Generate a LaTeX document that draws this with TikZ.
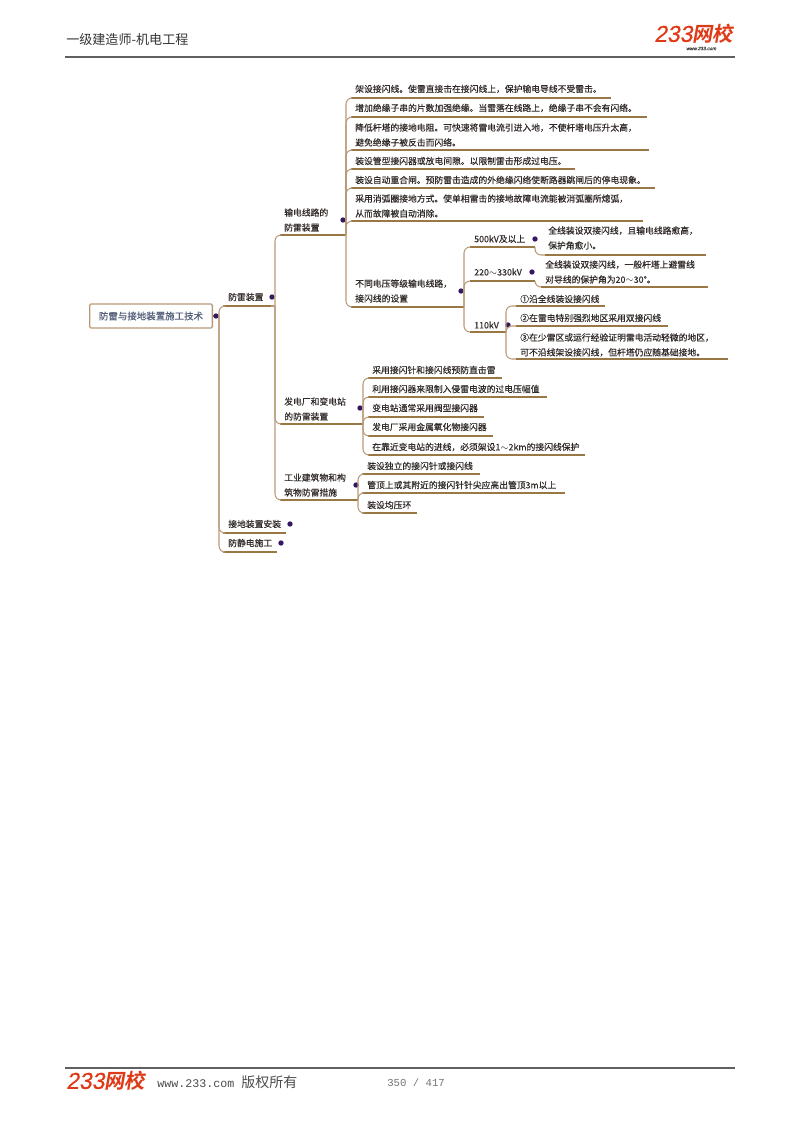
\documentclass[tikz,border=0pt]{standalone}
\usepackage{fontspec}
\setmainfont{Noto Sans CJK SC}
\newfontfamily\cjk[FakeBold=0.35]{Noto Sans CJK SC}
\newfontfamily\logofont[FakeSlant=0.18,FakeBold=0.6]{Liberation Sans}
\newfontfamily\logocjk[FakeSlant=0.18]{Noto Sans CJK SC Bold}
\newfontfamily\monof{Liberation Mono}
\definecolor{brownline}{HTML}{9A7845}
\definecolor{brownconn}{HTML}{B89A78}
\definecolor{txtc}{HTML}{302A28}
\definecolor{dotc}{HTML}{33195F}
\definecolor{logored}{HTML}{DE3A17}
\definecolor{rulec}{HTML}{606060}
\definecolor{roottxt}{HTML}{55607A}
\tikzset{
  lbl/.style={anchor=west,inner sep=0pt,align=left,text=txtc,font=\cjk\fontsize{6.6}{11.2}\selectfont},
  ul/.style={draw=brownline,line width=1.35pt},
  conn/.style={draw=brownconn,line width=.8pt,rounded corners=4.5pt},
  dotn/.style={circle,fill=dotc,inner sep=0pt,minimum size=4pt},
  rootbox/.style={draw=brownconn,line width=1pt,rounded corners=1pt,fill=white,minimum width=92pt,minimum height=18pt,inner sep=0pt,text=roottxt,font=\cjk\fontsize{7.1}{9}\selectfont},
  hdr/.style={inner sep=0pt,anchor=west,text=black!80,font=\fontsize{9.8}{11}\selectfont},
  logo/.style={inner sep=0pt,anchor=west,text=logored},
  rulel/.style={draw=rulec,line width=.95pt}
}
\newcommand{\topic}[7]{%
  \node[lbl] (#1) at (#2,#3) {#4};
  \coordinate (#1L) at (#5,#7);
  \coordinate (#1R) at (#6,#7);
  \draw[ul] (#1L) -- (#1R);
}
\newcommand{\lnk}[2]{\draw[conn] (#1) |- (#2);}
\newcommand{\logotext}{\logofont\fontsize{17.2}{17}\selectfont 233\logocjk\fontsize{15.2}{17}\selectfont 网校}
\begin{document}
\begin{tikzpicture}[x=.75pt,y=-.75pt]
\useasboundingbox (0,0) rectangle (800,1132);
% header / footer
\node[hdr] (head) at (66,40) {一级建造师-机电工程};
\coordinate (hl) at (65,57); \coordinate (hr) at (735,57);
\draw[rulel] (hl) -- (hr);
\node[logo] (lg1) at (654,34) {\logotext};
\node[inner sep=0pt,anchor=west,text=black!75] (lg1b) at (686,48.5) {\logofont\fontsize{3.6}{4}\selectfont www.233.com};
\coordinate (fl) at (65,1068); \coordinate (fr) at (735,1068);
\draw[rulel] (fl) -- (fr);
\node[logo] (lg2) at (66,1081) {\logotext};
\node[inner sep=0pt,anchor=west,text=black!70] (ftxt) at (157,1082) {\monof\fontsize{8.75}{10}\selectfont www.233.com \rmfamily\fontsize{10.5}{12}\selectfont 版权所有};
\node[inner sep=0pt,anchor=west,text=black!55] (pg) at (387,1083) {\monof\fontsize{8}{10}\selectfont 350 / 417};

% root
\node[rootbox] (root) at (151,316) {防雷与接地装置施工技术};
\coordinate (rootJ) at (219,316);
\draw[conn] (root.east) -- (rootJ);
\node[dotn] (d0) at (216,316) {};

% level 1
\topic{a}{228}{297}{防雷装置}{223}{271}{306}
\topic{b}{228}{524}{接地装置安装}{223}{286}{533}
\topic{c}{228}{543}{防静电施工}{223}{277}{552}
\lnk{rootJ}{aL} \lnk{rootJ}{bL} \lnk{rootJ}{cL}
\node[dotn] (da) at (272,297) {};
\node[dotn] (db) at (290,524) {};
\node[dotn] (dc) at (281,543) {};
\coordinate (aJ) at (275,306);

% level 2
\topic{e}{284}{220}{输电线路的\\防雷装置}{280}{346}{235}
\topic{f}{284}{409}{发电厂和变电站\\的防雷装置}{280}{363}{424}
\topic{g}{284}{485}{工业建筑物和构\\筑物防雷措施}{280}{358}{500}
\lnk{aJ}{eL} \lnk{aJ}{fL} \lnk{aJ}{gL}
\draw[conn] (aR) -- (aJ);
\node[dotn] (de) at (343,220) {};
\node[dotn] (df) at (360,408) {};
\node[dotn] (dg) at (356,485) {};

% transmission lines
\topic{e1}{355}{89}{架设接闪线。使雷直接击在接闪线上，保护输电导线不受雷击。}{351}{611}{98}
\topic{e2}{355}{108}{增加绝缘子串的片数加强绝缘。当雷落在线路上，绝缘子串不会有闪络。}{351}{647}{117}
\topic{e3}{355}{135}{降低杆塔的接地电阻。可快速将雷电流引进入地，不使杆塔电压升太高，\\避免绝缘子被反击而闪络。}{351}{649}{150}
\topic{e4}{355}{161}{装设管型接闪器或放电间隙。以限制雷击形成过电压。}{351}{575}{169}
\topic{e5}{355}{180}{装设自动重合闸。预防雷击造成的外绝缘闪络使断路器跳闸后的停电现象。}{351}{655}{188}
\topic{e6}{355}{206}{采用消弧圈接地方式。使单相雷击的接地故障电流能被消弧圈所熄弧，\\从而故障被自动消除。}{351}{643}{221}
\topic{e7}{355}{291}{不同电压等级输电线路，\\接闪线的设置}{351}{464}{307}
\foreach \k in {e1,e2,e3,e4,e5,e6,e7} {\lnk{eR}{\k L}}
\node[dotn] (de7) at (461,291) {};

% voltage levels
\topic{h1}{474}{239}{500kV及以上}{470}{535}{247}
\topic{h2}{474}{272}{220$\sim$330kV}{470}{535}{281}
\topic{h3}{474}{325}{110kV}{470}{506}{332}
\foreach \k in {h1,h2,h3} {\lnk{e7R}{\k L}}
\node[dotn] (dh1) at (535,239) {};
\node[dotn] (dh2) at (532,272) {};
\node[dotn] (dh3) at (508,325) {};

\topic{i1}{548}{238}{全线装设双接闪线，且输电线路愈高，\\保护角愈小。}{545}{706}{255}
\lnk{h1R}{i1L}
\topic{i2}{545}{272}{全线装设双接闪线，一般杆塔上避雷线\\对导线的保护角为20$\sim$30°。}{541}{708}{287}
\lnk{h2R}{i2L}
\topic{j1}{520}{299}{①沿全线装设接闪线}{516}{605}{306}
\topic{j2}{520}{318}{②在雷电特别强烈地区采用双接闪线}{516}{668}{326}
\topic{j3}{520}{345}{③在少雷区或运行经验证明雷电活动轻微的地区，\\可不沿线架设接闪线，但杆塔仍应随基础接地。}{516}{728}{359}
\foreach \k in {j1,j2,j3} {\lnk{h3R}{\k L}}

% power plants
\topic{f1}{372}{370}{采用接闪针和接闪线预防直击雷}{368}{502}{378}
\topic{f2}{372}{389}{利用接闪器来限制入侵雷电波的过电压幅值}{368}{547}{397}
\topic{f3}{372}{408}{变电站通常采用阀型接闪器}{368}{484}{417}
\topic{f4}{372}{427}{发电厂采用金属氧化物接闪器}{368}{493}{436}
\topic{f5}{372}{447}{在靠近变电站的进线，必须架设1$\sim$2km的接闪线保护}{368}{585}{455}
\foreach \k in {f1,f2,f3,f4,f5} {\lnk{fR}{\k L}}

% buildings
\topic{g1}{367}{466}{装设独立的接闪针或接闪线}{362}{480}{474}
\topic{g2}{367}{485}{管顶上或其附近的接闪针针尖应高出管顶3m以上}{362}{565}{493}
\topic{g3}{367}{505}{装设均压环}{362}{417}{513}
\foreach \k in {g1,g2,g3} {\lnk{gR}{\k L}}
\end{tikzpicture}
\end{document}
